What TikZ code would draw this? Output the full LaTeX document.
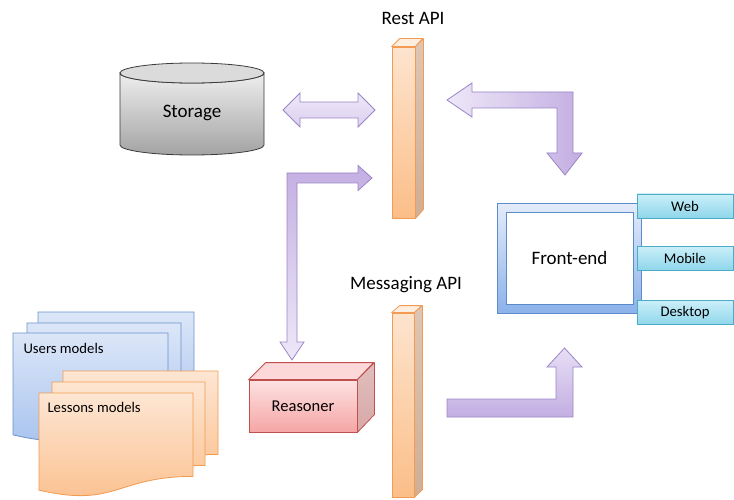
\documentclass[tikz,border=0pt]{standalone}
\usepackage{fontspec}
\setmainfont{Carlito}
\definecolor{arrLight}{HTML}{EEE8F8}
\definecolor{arrMid}{HTML}{DCD0EF}
\definecolor{arrDark}{HTML}{C3AEE2}
\definecolor{arrLine}{HTML}{9A84C6}
\definecolor{barTop}{HTML}{FDE4CE}
\definecolor{barBot}{HTML}{FBBE88}
\definecolor{barLine}{HTML}{F39B55}
\definecolor{barSide}{HTML}{CFAE94}
\definecolor{barTopFace}{HTML}{FEEEDF}
\definecolor{resTop}{HTML}{FDE2E2}
\definecolor{resBot}{HTML}{F6A5A5}
\definecolor{resLine}{HTML}{C0504D}
\definecolor{resSide}{HTML}{D8A8A8}
\definecolor{resTopFace}{HTML}{FCD8D8}
\definecolor{stoTop}{HTML}{EEEEEE}
\definecolor{stoBot}{HTML}{A3A3A3}
\definecolor{stoLine}{HTML}{3A3A3A}
\definecolor{feTop}{HTML}{E4ECFA}
\definecolor{feBot}{HTML}{8CB2EA}
\definecolor{feLine}{HTML}{5B8BCB}
\definecolor{tabTop}{HTML}{CBEFF9}
\definecolor{tabBot}{HTML}{8FD6EB}
\definecolor{tabLine}{HTML}{4BACC6}
\definecolor{docBTop}{HTML}{DCE6F8}
\definecolor{docBBot}{HTML}{A4C1EE}
\definecolor{docBLine}{HTML}{6A92C8}
\definecolor{docOTop}{HTML}{FDE6D3}
\definecolor{docOBot}{HTML}{FBBF8C}
\definecolor{docOLine}{HTML}{F29A50}
\newcommand\docsheet[5]{%
  \path[#1] (#2,#3) -- (#4,#3) -- (#4,{#3+0.802*(#5-#3)})
    .. controls ({(#2+#4)/2},{#3+0.802*(#5-#3)}) and ({(#2+#4)/2},{#3+1.107*(#5-#3)})
    .. (#2,{#3+0.934*(#5-#3)}) -- cycle;}
\begin{document}
\begin{tikzpicture}[x=1pt,y=-1pt,
  big/.style={font=\fontsize{19}{22}\selectfont},
  small/.style={font=\fontsize{14.7}{17}\selectfont},
  blockarrow/.style={draw=arrLine, line width=0.8pt, line join=miter},
  barface/.style={draw=barLine, line width=0.8pt, top color=barTop, bottom color=barBot, inner sep=0pt},
  barside/.style={draw=barLine, line width=0.8pt, top color=barSide!70!white, bottom color=barSide, line join=round},
  bartop/.style={draw=barLine, line width=0.8pt, fill=barTopFace, line join=round},
  resface/.style={draw=resLine, line width=0.8pt, top color=resTop, bottom color=resBot, inner sep=0pt,
     minimum width=108pt, minimum height=52pt, font=\fontsize{16.5}{19}\selectfont},
  tabbox/.style={draw=tabLine, line width=0.8pt, top color=tabTop, bottom color=tabBot,
     minimum width=96pt, minimum height=24pt, inner sep=0pt, font=\fontsize{14.7}{17}\selectfont},
  bluedoc/.style={draw=docBLine, line width=0.8pt, top color=docBTop, bottom color=docBBot},
  orangedoc/.style={draw=docOLine, line width=0.8pt, top color=docOTop, bottom color=docOBot},
]
\useasboundingbox (0,0) rectangle (734,500);

% ---------- Storage cylinder ----------
\path[draw=stoLine, line width=0.8pt, top color=stoTop, bottom color=stoBot]
  (120,73) -- (120,145) arc[start angle=180, end angle=0, x radius=72, y radius=10]
  -- (264,73) arc[start angle=0, end angle=180, x radius=72, y radius=10] -- cycle;
\path[draw=stoLine, line width=0.8pt, fill=stoTop!92!black] (192,73) ellipse[x radius=72, y radius=10];
\node[big] (storage) at (192,113) {Storage};

% ---------- Rest API bar ----------
\node[barface, minimum width=23pt, minimum height=171pt] (rest) at (403.5,132.5) {};
\path[bartop] (rest.north west) -- ++(8,-8) -- ++(23,0) -- (rest.north east) -- cycle;
\path[barside] (rest.north east) -- ++(8,-8) -- ++(0,171) -- (rest.south east) -- cycle;
\node[big] (restlabel) at (413,18) {Rest API};

% ---------- Messaging API bar ----------
\node[barface, minimum width=22pt, minimum height=184pt] (msg) at (403,405) {};
\path[bartop] (msg.north west) -- ++(8,-7) -- ++(22,0) -- (msg.north east) -- cycle;
\path[barside] (msg.north east) -- ++(8,-7) -- ++(0,184) -- (msg.south east) -- cycle;
\node[big] (msglabel) at (406,285) {Messaging API};

% ---------- Front-end ----------
\node[draw=feLine, line width=0.9pt, top color=feTop, bottom color=feBot,
      minimum width=144pt, minimum height=110pt, inner sep=0pt] (feframe) at (569,258) {};
\node[draw=feLine, line width=0.8pt, fill=white, minimum width=127pt, minimum height=92pt,
      inner sep=0pt, big] (fe) at (569.5,258) {Front-end};
\node[tabbox] (web) at (685,206) {Web};
\node[tabbox] (mobile) at (685,258) {Mobile};
\node[tabbox] (desktop) at (685,312.5) {Desktop};

% ---------- Reasoner ----------
\node[resface] (reasoner) at (303,406) {Reasoner};
\path[draw=resLine, line width=0.8pt, fill=resTopFace, line join=round]
  (reasoner.north west) -- ++(17,-17) -- ++(108,0) -- (reasoner.north east) -- cycle;
\path[draw=resLine, line width=0.8pt, top color=resSide!75!white, bottom color=resSide, line join=round]
  (reasoner.north east) -- ++(17,-17) -- ++(0,52) -- (reasoner.south east) -- cycle;

% ---------- Documents ----------
\docsheet{bluedoc}{38}{312}{194}{421}
\docsheet{bluedoc}{27}{323}{181}{432}
\docsheet{bluedoc}{13}{333}{168}{442}
\node[small, anchor=west] (users) at (20,348) {Users models};
\docsheet{orangedoc}{63}{371}{218}{475}
\docsheet{orangedoc}{52}{382}{205}{486}
\docsheet{orangedoc}{39}{393}{193}{497}
\node[small, anchor=west] (lessons) at (44,407) {Lessons models};

% ---------- Block arrows ----------
% Storage <-> Rest API
\path[blockarrow, top color=arrLight, bottom color=arrMid]
  (283,110) -- (300,93) -- (300,102) -- (358,102) -- (358,93) -- (375,110)
  -- (358,127) -- (358,118) -- (300,118) -- (300,127) -- cycle;
% Front-end <-> Rest API
\path[blockarrow, left color=arrLight, right color=arrDark]
  (447,100) -- (472,83) -- (472,92) -- (573,92) -- (573,153) -- (582,153) -- (565,175)
  -- (547,153) -- (557,153) -- (557,108) -- (472,108) -- (472,117) -- cycle;
% Reasoner <-> Rest API
\path[blockarrow, top color=arrDark, bottom color=arrLight]
  (287,173) -- (358,173) -- (358,165.5) -- (372,178) -- (358,190.5) -- (358,183)
  -- (297,183) -- (297,342) -- (304,342) -- (292,360) -- (280,342) -- (287,342) -- cycle;
% Messaging API -> Front-end
\path[blockarrow, top color=arrLight!60!arrMid, bottom color=arrDark]
  (447,399) -- (556,399) -- (556,367) -- (547,367) -- (564.5,348) -- (582,367)
  -- (573,367) -- (573,417) -- (447,417) -- cycle;
\end{tikzpicture}
\end{document}
